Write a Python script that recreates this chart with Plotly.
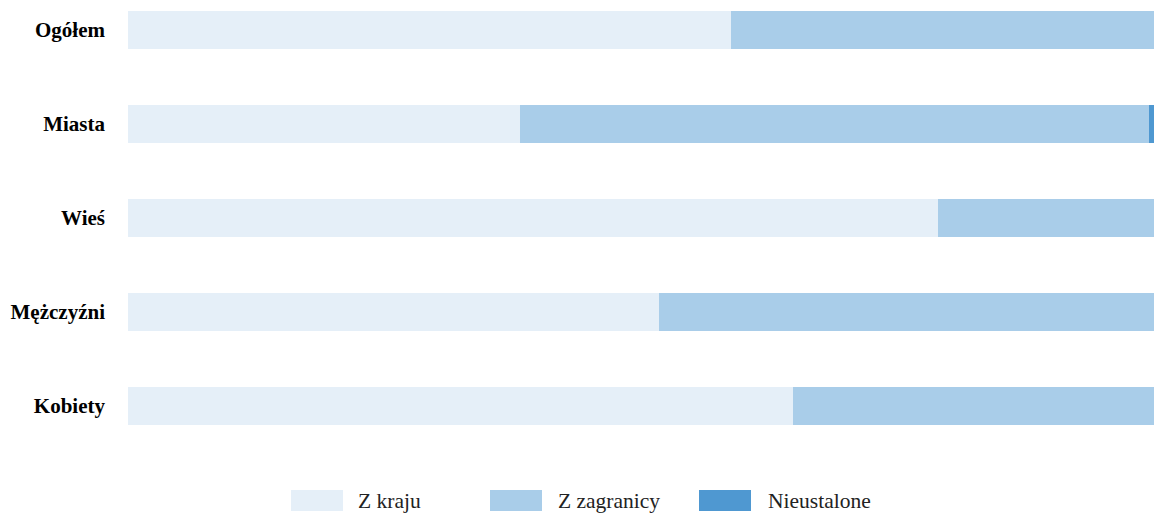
import plotly.graph_objects as go

categories = ["Ogółem", "Miasta", "Wieś", "Mężczyźni", "Kobiety"]
z_kraju = [58.8, 38.2, 78.9, 51.8, 64.8]
z_zagranicy = [41.2, 61.3, 21.1, 48.2, 35.2]
nieustalone = [0.0, 0.5, 0.0, 0.0, 0.0]

series_names = ["Z kraju", "Z zagranicy", "Nieustalone"]
series_values = [z_kraju, z_zagranicy, nieustalone]
colors = ["#e5eff8", "#a9cde9", "#4f98d1"]

fig = go.Figure()
for name, vals, col in zip(series_names, series_values, colors):
    fig.add_trace(go.Bar(
        y=categories, x=vals, name=name, orientation="h",
        marker=dict(color=col, line=dict(width=0)),
        width=0.404, showlegend=False,
    ))

W, H = 1154, 515
L, B = 128, 70
plot_h = H - B
plot_w = W - L

# custom legend (swatches + text), positions in page pixels
legend_items = [(291, 358), (490, 558), (699, 768)]
for (sx, tx), name, col in zip(legend_items, series_names, colors):
    x0 = (sx - L) / plot_w
    x1 = (sx + 52 - L) / plot_w
    y0 = (plot_h - 511) / plot_h
    y1 = (plot_h - 490) / plot_h
    fig.add_shape(type="rect", xref="paper", yref="paper", x0=x0, x1=x1, y0=y0, y1=y1,
                  fillcolor=col, line=dict(width=0))
    fig.add_annotation(xref="paper", yref="paper", x=(tx - L) / plot_w,
                       y=(plot_h - 500.5) / plot_h,
                       text=name, showarrow=False, xanchor="left", yanchor="middle",
                       xshift=-2,
                       font=dict(family="Liberation Serif", size=21.5, color="#222222"))

fig.update_layout(
    barmode="stack",
    width=W, height=H,
    margin=dict(l=L, r=0, t=0, b=B),
    paper_bgcolor="white", plot_bgcolor="white",
    font=dict(family="Liberation Serif", size=21, color="#222222"),
    xaxis=dict(range=[0, 100], showgrid=False, zeroline=False, showticklabels=False, fixedrange=True),
    yaxis=dict(categoryorder="array", categoryarray=categories,
               range=[4.415, -0.319], showgrid=False, zeroline=False,
               tickfont=dict(family="Liberation Serif", size=21, color="#000000", weight="bold"),
               ticklabelstandoff=22),
)

fig.write_html("out.html",
               config={"displayModeBar": False},
               post_script="document.body.style.margin='0';document.body.style.overflow='hidden';")
